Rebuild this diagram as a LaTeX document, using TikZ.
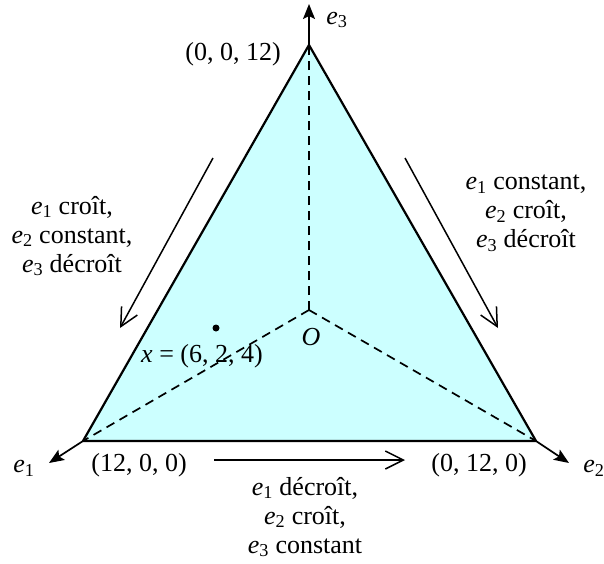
\documentclass[tikz,border=0pt]{standalone}
\usepackage{fontspec}
\setmainfont{Liberation Serif}
\usetikzlibrary{arrows.meta}
\definecolor{simplexfill}{RGB}{204,255,255}
\newcommand{\ev}[1]{\textit{e}\textsubscript{#1}}

\begin{document}
\begin{tikzpicture}[
    x=1pt, y=-1pt,
    font=\fontsize{26}{29}\selectfont,
    lbl/.style={inner sep=0pt, align=center},
    axis/.style={-{Stealth[length=15pt,width=12pt,inset=3pt]}, line width=1.7pt},
    move/.style={-{Straight Barb[length=18pt,width=18pt]}, line width=1.5pt},
    rim/.style={line width=2.2pt, line join=round},
    hidden/.style={dash pattern=on 9pt off 6pt, line width=1.7pt}
]
\useasboundingbox (0,0) rectangle (604,563);

% vertices of the simplex
\coordinate (A) at (309,45);
\coordinate (B) at (83,441);
\coordinate (C) at (536,441);
\coordinate (O) at (309,310);

% axis ends
\coordinate (A3) at (309,4);
\coordinate (B1) at (49,463);
\coordinate (C2) at (569,463);

\fill[simplexfill] (A) -- (B) -- (C) -- cycle;
\draw[hidden] (O) -- (A);
\draw[hidden] (O) -- (B);
\draw[hidden] (O) -- (C);
\draw[rim] (A) -- (B) -- (C) -- cycle;

\draw[axis] (A) -- (A3);
\draw[axis] (B) -- (B1);
\draw[axis] (C) -- (C2);

% moves along the edges
\coordinate (L1) at (213,158);
\coordinate (L2) at (120,328);
\coordinate (R1) at (405,158);
\coordinate (R2) at (498,328);
\coordinate (D1) at (214,460);
\coordinate (D2) at (405,460);

\draw[move] (L1) -- (L2);
\draw[move] (R1) -- (R2);
\draw[move] (D1) -- (D2);

% the point x
\node[circle, fill=black, inner sep=0pt, minimum size=7pt] (xpt) at (216,328) {};

% labels
\node[lbl] (e3) at (337,20) {\ev{3}};
\node[lbl] (e1) at (24,468) {\ev{1}};
\node[lbl] (e2) at (594,468) {\ev{2}};
\node[lbl] (topv) at (233,54) {(0, 0, 12)};
\node[lbl] (leftv) at (139,465) {(12, 0, 0)};
\node[lbl] (rightv) at (479,465) {(0, 12, 0)};
\node[lbl] (orig) at (311,337) {\textit{O}};
\node[lbl] (xlab) at (202,356) {\textit{x} = (6, 2, 4)};

\node[lbl] (leftmove) at (72,236)
{\ev{1} croît,\\ \ev{2} constant,\\ \ev{3} décroît};
\node[lbl] (rightmove) at (526,213)
{\ev{1} constant,\\ \ev{2} croît,\\ \ev{3} décroît};
\node[lbl] (bottommove) at (305,517)
{\ev{1} décroît,\\ \ev{2} croît,\\ \ev{3} constant};

\end{tikzpicture}
\end{document}
